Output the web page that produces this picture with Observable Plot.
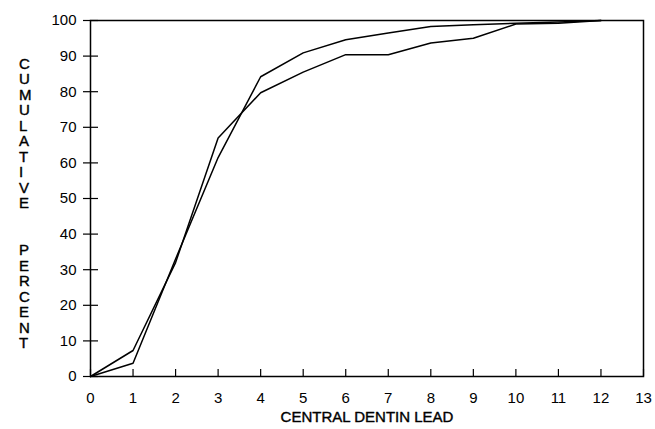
<!DOCTYPE html>
<html>
<head>
<meta charset="utf-8">
<script src="https://cdn.jsdelivr.net/npm/d3@7"></script>
<script src="https://cdn.jsdelivr.net/npm/@observablehq/plot@0.6"></script>
<style>
  html, body { margin: 0; padding: 0; background: #fff; }
  #chart svg { display: block; }
</style>
</head>
<body>
<div id="chart"></div>
<script>
const dentinLead = [0, 1, 2, 3, 4, 5, 6, 7, 8, 9, 10, 11, 12];
const seriesA = [0, 7.3, 32, 67, 79.7, 85.5, 90.4, 90.4, 93.7, 95, 99, 99.2, 100];
const seriesB = [0, 3.7, 33, 61.5, 84.2, 90.9, 94.6, 96.5, 98.3, 98.8, 99.2, 99.6, 100];
const xTicks = [0, 1, 2, 3, 4, 5, 6, 7, 8, 9, 10, 11, 12, 13];
const yTicks = [0, 10, 20, 30, 40, 50, 60, 70, 80, 90, 100];
const xTitle = "CENTRAL DENTIN LEAD";
const yTitle = "CUMULATIVE  PERCENT";

const rowsA = dentinLead.map((x, i) => ({x, y: seriesA[i]}));
const rowsB = dentinLead.map((x, i) => ({x, y: seriesB[i]}));

const chart = Plot.plot({
  width: 655,
  height: 429,
  marginLeft: 90,
  marginRight: 12,
  marginTop: 20,
  marginBottom: 53,
  style: {fontFamily: "'Liberation Sans', Arial, sans-serif", fontSize: "15px", color: "#000", background: "#fff"},
  x: {domain: [0, 13]},
  y: {domain: [0, 100]},
  marks: [
    Plot.frame({stroke: "#000", strokeWidth: 1.5}),
    Plot.axisY({ticks: yTicks, tickSize: 15, dx: 8, tickFormat: () => "", label: null, strokeWidth: 1.2}),
    Plot.axisY({ticks: yTicks, tickSize: 0, tickPadding: 14, label: null, fontSize: 15}),
    Plot.axisX({ticks: xTicks, tickSize: 7, dy: -7, tickFormat: () => "", label: null, strokeWidth: 1.2}),
    Plot.axisX({ticks: xTicks, tickSize: 0, tickPadding: 16, label: null, fontSize: 15}),
    Plot.line(rowsA, {x: "x", y: "y", stroke: "#000", strokeWidth: 1.5}),
    Plot.line(rowsB, {x: "x", y: "y", stroke: "#000", strokeWidth: 1.5}),
    Plot.text([xTitle], {frameAnchor: "bottom", dy: 45, fontSize: 15, text: d => d, style: "letter-spacing:1.5px", fill: "#000", stroke: "#000", strokeWidth: 0.4}),
    Plot.text([yTitle.split("").join("\n")], {frameAnchor: "left", dx: -71.5, dy: 5, lineHeight: 1.035, fontSize: 15, text: d => d, fill: "#000", stroke: "#000", strokeWidth: 0.4})
  ]
});
document.getElementById("chart").appendChild(chart);
</script>
</body>
</html>
